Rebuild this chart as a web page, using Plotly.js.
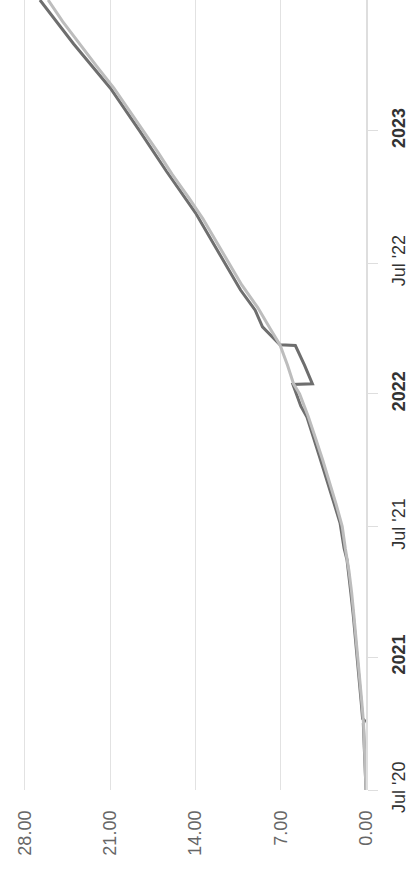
<!DOCTYPE html>
<html>
<head>
<meta charset="utf-8">
<script src="https://cdn.plot.ly/plotly-3.0.1.min.js"></script>
<style>
  html, body { margin: 0; padding: 0; background: #ffffff; }
  #chart { width: 416px; height: 874px; }
</style>
</head>
<body>
<div id="chart"></div>
<script>
// Series A (dark grey)
const datesA = [
  '2020-07-01','2020-08-01','2020-09-01','2020-10-01','2020-10-05','2020-10-08','2020-11-01','2020-12-01',
  '2021-01-01','2021-02-01','2021-03-01','2021-04-01','2021-05-01','2021-05-16','2021-06-01','2021-07-01',
  '2021-07-06','2021-08-01','2021-08-21','2021-09-01','2021-10-05','2021-11-01','2021-11-30','2021-12-15',
  '2022-01-14','2022-01-15','2022-02-10','2022-03-09','2022-03-10','2022-04-04','2022-04-27','2022-05-25',
  '2022-07-19','2022-09-09','2022-11-06','2022-12-04','2023-01-01','2023-03-01','2023-05-01','2023-07-01'
];
const valuesA = [
  0.00, 0.08, 0.15, 0.22, 0.12, 0.28, 0.40, 0.55,
  0.76, 0.90, 1.05, 1.25, 1.45, 1.56, 1.80, 2.05,
  2.13, 2.60, 2.95, 3.15, 3.80, 4.30, 4.85, 5.35,
  6.00, 4.40, 5.05, 5.80, 7.06, 8.50, 9.10, 10.30,
  12.20, 14.00, 16.40, 17.50, 18.60, 21.00, 24.00, 26.77
];

// Series B (light grey)
const datesB = [
  '2020-07-01','2020-08-01','2020-09-01','2020-10-01','2020-11-01','2020-12-01',
  '2021-01-01','2021-02-01','2021-03-01','2021-04-01','2021-05-01','2021-06-01',
  '2021-07-01','2021-08-01','2021-09-01','2021-10-01','2021-11-01','2021-12-01',
  '2022-01-01','2022-01-15','2022-02-10','2022-03-10','2022-04-01','2022-05-01',
  '2022-06-01','2022-07-01','2022-08-01','2022-09-01','2022-10-01','2022-11-01',
  '2022-12-01','2023-01-01','2023-02-01','2023-03-01','2023-04-01','2023-05-01',
  '2023-06-01','2023-07-01'
];
const valuesB = [
  0.00, 0.05, 0.12, 0.20, 0.35, 0.50,
  0.68, 0.85, 1.00, 1.18, 1.40, 1.70,
  1.95, 2.45, 3.00, 3.55, 4.15, 4.75,
  5.45, 5.95, 6.45, 7.06, 7.85, 8.90,
  10.20, 11.25, 12.35, 13.40, 14.60, 15.90,
  17.05, 18.30, 19.55, 20.70, 22.15, 23.50,
  24.90, 26.10
];

// Axis ticks
const valueTicks = [0, 7, 14, 21, 28];
const valueTickText = ['0.00', '7.00', '14.00', '21.00', '28.00'];
const dateTicks = ['2020-07-01','2021-01-01','2021-07-01','2022-01-01','2022-07-01','2023-01-01'];
const dateTickText = ["Jul '20", '<b>2021</b>', "Jul '21", '<b>2022</b>', "Jul '22", '<b>2023</b>'];

const traces = [
  { type: 'scatter', mode: 'lines', x: valuesA, y: datesA,
    line: { color: '#6e6e6e', width: 3 }, hoverinfo: 'skip', showlegend: false },
  { type: 'scatter', mode: 'lines', x: valuesB, y: datesB,
    line: { color: '#bdbdbd', width: 3 }, hoverinfo: 'skip', showlegend: false }
];

const layout = {
  width: 416, height: 874,
  margin: { l: 0, r: 50, t: 0, b: 84, pad: 0 },
  paper_bgcolor: '#ffffff', plot_bgcolor: '#ffffff',
  showlegend: false,
  font: { family: 'Liberation Sans, Arial, sans-serif' },
  xaxis: {
    range: [30.05, 0],
    tickvals: valueTicks, ticktext: valueTickText,
    tickangle: -90,
    ticklabelstandoff: 16,
    showgrid: true, gridcolor: '#e2e2e2', gridwidth: 1,
    zeroline: false, showline: false, ticks: '',
    tickfont: { size: 18, color: '#666666' },
    fixedrange: true
  },
  yaxis: {
    type: 'date', side: 'right',
    range: ['2020-07-01', '2023-07-01'],
    tickvals: dateTicks, ticktext: dateTickText,
    tickangle: -90,
    ticklabelstandoff: 5,
    showgrid: false, zeroline: false,
    showline: true, linecolor: '#dedede', linewidth: 2,
    ticks: 'outside', ticklen: 10, tickcolor: '#dedede', tickwidth: 1,
    tickfont: { size: 18, color: '#333333' },
    fixedrange: true
  }
};

Plotly.newPlot('chart', traces, layout, { displayModeBar: false, staticPlot: true });
</script>
</body>
</html>
